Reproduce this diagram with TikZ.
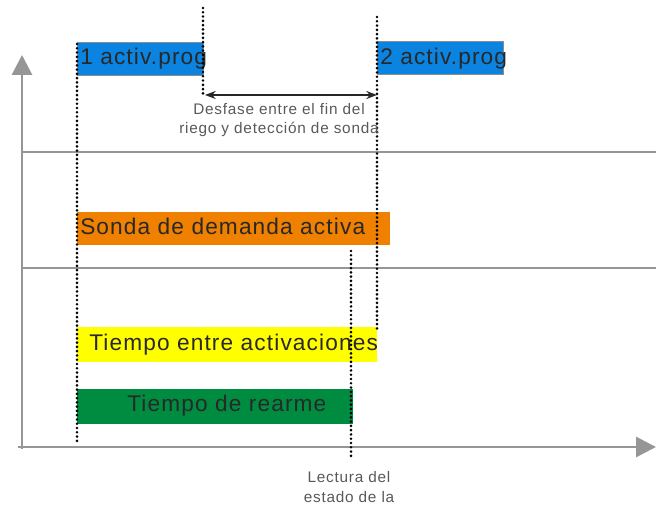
\documentclass[tikz,border=0pt]{standalone}
\usepackage{fontspec}
\setmainfont{Liberation Sans}
\newfontfamily\barfont[LetterSpace=5]{Liberation Sans}
\newfontfamily\notefont[LetterSpace=5]{Liberation Sans}
\usetikzlibrary{positioning, arrows.meta}

\definecolor{progblue}{RGB}{10,132,224}
\definecolor{sondaorange}{RGB}{240,128,0}
\definecolor{gapyellow}{RGB}{255,255,0}
\definecolor{rearmgreen}{RGB}{0,140,64}
\definecolor{axisgray}{RGB}{150,150,150}
\definecolor{inkgray}{RGB}{40,40,40}

\begin{document}
\begin{tikzpicture}[
  x=0.75pt, y=-0.75pt,
  bar/.style={
    anchor=north west, inner sep=0pt, outer sep=0pt,
    minimum height=33*0.75pt
  },
  bartext/.style={
    anchor=base west, inner sep=0pt, text=inkgray,
    font=\barfont\fontsize{17pt}{20pt}\selectfont
  },
  note/.style={
    align=center, inner sep=0pt, text=black!65,
    font=\notefont\fontsize{11.5pt}{14.5pt}\selectfont
  },
  axis/.style={-{Triangle[width=15pt, length=15pt]}, line width=2.2pt, draw=axisgray},
  track/.style={line width=1.5pt, draw=axisgray},
  mark line/.style={draw=black, line width=2.2pt, dash pattern=on 0pt off 3.2pt, line cap=round},
  arrow/.style={{Stealth[length=8pt, width=6pt]}-{Stealth[length=8pt, width=6pt]}, line width=1.2pt, draw=black!85}
]
\useasboundingbox (0,0) rectangle (656,509);

% time axes
\coordinate (origin) at (22,447);
\coordinate (ytop) at (22,55);
\coordinate (xend) at (656,447);
\draw[axis] (22,449) -- (ytop);
\draw[axis] (18,447) -- (xend);

% row separators
\coordinate (sep1a) at (22,152);
\coordinate (sep1b) at (656,152);
\coordinate (sep2a) at (22,268);
\coordinate (sep2b) at (656,268);
\draw[track] (sep1a) -- (sep1b);
\draw[track] (sep2a) -- (sep2b);

% bars
\node[bar, fill=progblue, draw=black!45, thin, minimum width=126*0.75pt] (prog1) at (77,42) {};
\node[bar, fill=progblue, draw=black!45, thin, minimum width=126*0.75pt] (prog2) at (377,41) {};
\node[bar, fill=sondaorange, minimum width=313*0.75pt] (sonda) at (77,212) {};
\node[bar, fill=gapyellow, minimum width=300*0.75pt, minimum height=35*0.75pt] (entre) at (77,327) {};
\node[bar, fill=rearmgreen, minimum width=276*0.75pt, minimum height=35*0.75pt] (rearme) at (77,389) {};

\node[bartext] (prog1txt) at (80,65) {1 activ.prog};
\node[bartext] (prog2txt) at (380,65) {2 activ.prog};
\node[bartext] (sondatxt) at (80,235) {Sonda de demanda activa};
\node[bartext] (entretxt) at (89,350) {Tiempo entre activaciones};
\node[bartext] (rearmetxt) at (127,411) {Tiempo de rearme};

% dotted markers
\coordinate (m1top) at (77,44);
\coordinate (m1bot) at (77,445);
\coordinate (m2top) at (203,8);
\coordinate (m2bot) at (203,97);
\coordinate (m3top) at (377,17);
\coordinate (m3bot) at (377,330);
\coordinate (m4top) at (351,251);
\coordinate (m4bot) at (351,460);
\draw[mark line] (m1top) -- (m1bot);
\draw[mark line] (m2top) -- (m2bot);
\draw[mark line] (m3top) -- (m3bot);
\draw[mark line] (m4top) -- (m4bot);

% offset between end of irrigation and probe detection
\coordinate (gapa) at (205,95);
\coordinate (gapb) at (377,95);
\draw[arrow] (gapa) -- (gapb);
\node[note] (desfase) at (279,120) {Desfase entre el fin del\\riego y detección de sonda};
\node[note] (lectura) at (349,487) {Lectura del\\estado de la};

\end{tikzpicture}
\end{document}
